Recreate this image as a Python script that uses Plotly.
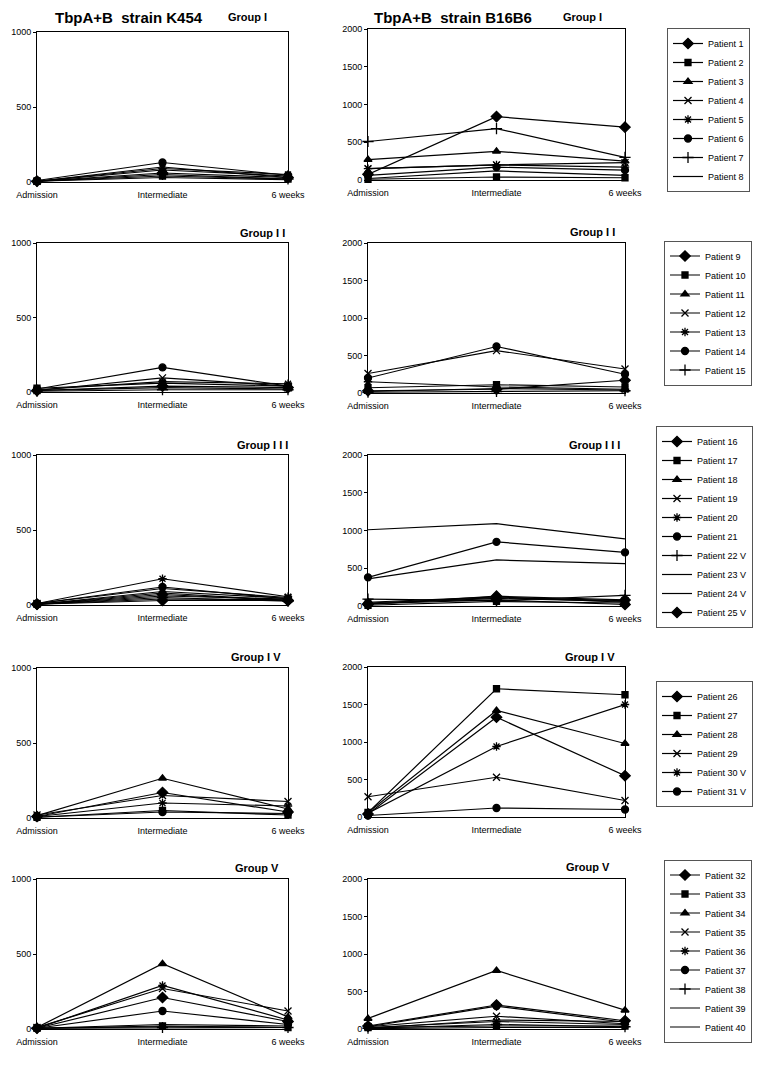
import plotly.graph_objects as go

W, H = 761, 1069
stages = ["Admission", "Intermediate", "6 weeks"]

# ---------------- data ----------------
g1_names = ["Patient 1", "Patient 2", "Patient 3", "Patient 4", "Patient 5",
            "Patient 6", "Patient 7", "Patient 8"]
g1_symbols = ["diamond", "square", "triangle", "x", "star", "circle", "plus", "none"]
g1_k454 = [[5, 60, 30], [5, 40, 20], [5, 80, 40], [5, 100, 30], [5, 90, 50],
           [10, 130, 45], [5, 50, 20], [5, 30, 15]]
g1_b16b6 = [[75, 840, 700], [10, 40, 30], [270, 380, 250], [150, 200, 230],
            [150, 200, 170], [60, 170, 130], [510, 680, 300], [20, 120, 60]]

g2_names = ["Patient 9", "Patient 10", "Patient 11", "Patient 12", "Patient 13",
            "Patient 14", "Patient 15"]
g2_symbols = ["diamond", "square", "triangle", "x", "star", "circle", "plus"]
g2_k454 = [[10, 40, 30], [25, 60, 40], [10, 30, 20], [10, 95, 40], [15, 70, 55],
           [20, 165, 40], [5, 15, 15]]
g2_b16b6 = [[30, 50, 170], [70, 110, 80], [20, 60, 40], [260, 565, 320],
            [150, 80, 50], [200, 620, 250], [10, 20, 30]]

g3_names = ["Patient 16", "Patient 17", "Patient 18", "Patient 19", "Patient 20",
            "Patient 21", "Patient 22 V", "Patient 23 V", "Patient 24 V", "Patient 25 V"]
g3_symbols = ["diamond", "square", "triangle", "x", "star", "circle", "plus",
              "none", "none", "diamond"]
g3_k454 = [[5, 30, 30], [5, 60, 40], [5, 80, 30], [10, 110, 50], [10, 175, 55],
           [10, 120, 40], [5, 50, 25], [5, 90, 45], [5, 40, 35], [5, 70, 30]]
g3_b16b6 = [[20, 130, 80], [10, 60, 40], [30, 100, 60], [40, 110, 70], [50, 120, 50],
            [380, 850, 710], [90, 70, 140], [1010, 1090, 890], [360, 610, 560],
            [30, 80, 20]]

g4_names = ["Patient 26", "Patient 27", "Patient 28", "Patient 29", "Patient 30 V",
            "Patient 31 V"]
g4_symbols = ["diamond", "square", "triangle", "x", "star", "circle"]
g4_k454 = [[10, 170, 40], [5, 50, 20], [15, 265, 60], [20, 150, 110], [10, 100, 80],
           [5, 40, 30]]
g4_b16b6 = [[40, 1330, 550], [60, 1710, 1630], [60, 1420, 980], [270, 530, 220],
            [50, 940, 1500], [20, 120, 100]]

g5_names = ["Patient 32", "Patient 33", "Patient 34", "Patient 35", "Patient 36",
            "Patient 37", "Patient 38", "Patient 39", "Patient 40"]
g5_symbols = ["diamond", "square", "triangle", "x", "star", "circle", "plus",
              "none", "none"]
g5_k454 = [[5, 210, 50], [5, 20, 10], [10, 435, 80], [10, 270, 120], [5, 290, 60],
           [5, 120, 30], [5, 10, 10], [5, 30, 20], [5, 15, 10]]
g5_b16b6 = [[40, 320, 110], [20, 40, 40], [140, 780, 250], [30, 170, 70],
            [20, 100, 60], [30, 305, 90], [10, 60, 30], [10, 120, 100], [5, 20, 20]]

group_titles = ["Group I", "Group I I", "Group I I I", "Group I V", "Group V"]
k454_max = 1000
b16b6_max = 2000
k454_ticks = [0, 500, 1000]
b16b6_ticks = [0, 500, 1000, 1500, 2000]

groups = [
    (g1_names, g1_symbols, g1_k454, g1_b16b6),
    (g2_names, g2_symbols, g2_k454, g2_b16b6),
    (g3_names, g3_symbols, g3_k454, g3_b16b6),
    (g4_names, g4_symbols, g4_k454, g4_b16b6),
    (g5_names, g5_symbols, g5_k454, g5_b16b6),
]

# ---------------- layout geometry (pixels) ----------------
left_x = (37, 288)
right_x = (368, 625)
rows_left = [(32, 182), (243, 392), (455, 605), (668, 818), (879, 1029)]
rows_right = [(29, 180), (243, 393), (455, 606), (667, 817), (879, 1029)]
# legend: left edge x, vertical centre y
legend_pos = [(667, 110), (664, 313), (656, 527), (656, 744), (664, 951)]
group_title_left = [(248, 17), (262, 233), (262, 445), (256, 657), (257, 868)]
group_title_right = [(582, 17), (592, 232), (594, 445), (590, 657), (588, 867)]

FONT = "Arial, Liberation Sans, sans-serif"

marker_map = {
    "diamond": dict(symbol="diamond", size=8),
    "square": dict(symbol="square", size=6),
    "triangle": dict(symbol="triangle-up", size=7),
    "x": dict(symbol="x-thin-open", size=7),
    "star": dict(symbol="asterisk-open", size=7),
    "circle": dict(symbol="circle", size=7),
    "plus": dict(symbol="cross-thin-open", size=8),
}


def px_x(v):
    return v / W


def px_y(v):
    return 1 - v / H


fig = go.Figure()
layout = {}
annotations = []

for r, (names, symbols, k_vals, b_vals) in enumerate(groups):
    legend_name = "legend" if r == 0 else f"legend{r + 1}"
    for c, (vals, ymax, ticks, xr, yr) in enumerate([
        (k_vals, k454_max, k454_ticks, left_x, rows_left[r]),
        (b_vals, b16b6_max, b16b6_ticks, right_x, rows_right[r]),
    ]):
        idx = r * 2 + c + 1
        xa = "x" if idx == 1 else f"x{idx}"
        ya = "y" if idx == 1 else f"y{idx}"
        for name, sym, v in zip(names, symbols, vals):
            if sym == "none":
                mode = "lines"
                marker = dict(color="black")
            else:
                mode = "lines+markers"
                m = marker_map[sym]
                marker = dict(symbol=m["symbol"], size=m["size"], color="black",
                              line=dict(color="black", width=1.3))
            fig.add_trace(go.Scatter(
                x=stages, y=v, mode=mode, name=name, marker=marker,
                line=dict(color="black", width=1.2),
                xaxis=xa, yaxis=ya, cliponaxis=False,
                legend=legend_name, legendgroup=f"{r}-{name}",
                showlegend=(c == 1),
            ))
        axkey = "xaxis" if idx == 1 else f"xaxis{idx}"
        aykey = "yaxis" if idx == 1 else f"yaxis{idx}"
        layout[axkey] = dict(
            domain=[px_x(xr[0]), px_x(xr[1])], anchor=ya,
            type="category", categoryorder="array", categoryarray=stages,
            range=[0, 2], showgrid=False, zeroline=False, showline=True,
            mirror=True, linecolor="black", linewidth=1, ticks="",
            tickfont=dict(family=FONT, size=9, color="black"),
            ticklabelstandoff=4, fixedrange=True, automargin=False,
        )
        layout[aykey] = dict(
            domain=[px_y(yr[1]), px_y(yr[0])], anchor=xa,
            range=[0, ymax], tickvals=ticks, showgrid=False, zeroline=False,
            showline=True, mirror=True, linecolor="black", linewidth=1,
            ticks="outside", ticklen=3, tickcolor="black",
            tickfont=dict(family=FONT, size=9, color="black"), fixedrange=True,
            automargin=False,
        )
    lx, ly = legend_pos[r]
    layout[legend_name] = dict(
        x=lx / W, y=1 - ly / H, xref="container", yref="container",
        xanchor="left", yanchor="middle",
        bordercolor="#555555", borderwidth=1, bgcolor="white",
        font=dict(family=FONT, size=9, color="black"),
        tracegroupgap=0, itemwidth=30,
    )
    for (tx, ty) in (group_title_left[r], group_title_right[r]):
        annotations.append(dict(
            x=px_x(tx), y=px_y(ty), xref="paper", yref="paper",
            text=f"<b>{group_titles[r]}</b>", showarrow=False,
            font=dict(family=FONT, size=11, color="black"),
            xanchor="center", yanchor="middle",
        ))

annotations.append(dict(
    x=px_x(129), y=px_y(17), xref="paper", yref="paper",
    text="<b>TbpA+B  strain K454</b>", showarrow=False,
    font=dict(family=FONT, size=15, color="black"), xanchor="center", yanchor="middle"))
annotations.append(dict(
    x=px_x(453), y=px_y(17), xref="paper", yref="paper",
    text="<b>TbpA+B  strain B16B6</b>", showarrow=False,
    font=dict(family=FONT, size=15, color="black"), xanchor="center", yanchor="middle"))

fig.update_layout(
    width=W, height=H, margin=dict(l=0, r=0, t=0, b=0, autoexpand=False),
    paper_bgcolor="white", plot_bgcolor="white",
    font=dict(family=FONT, size=9, color="black"),
    annotations=annotations, **layout,
)

fig.write_html(
    "out.html",
    config={"displayModeBar": False},
    post_script="document.body.style.margin='0';document.body.style.overflow='hidden';",
)
